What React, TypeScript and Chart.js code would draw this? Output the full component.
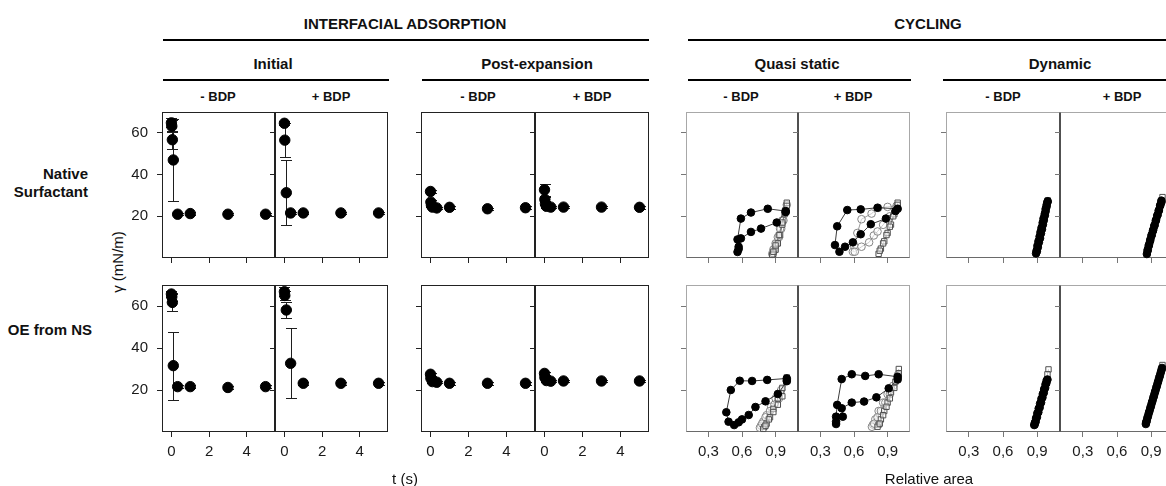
import React, { useEffect, useRef } from "react";
import { Chart, registerables } from "chart.js";

Chart.register(...registerables);

const FONT = '"Liberation Sans", Arial, Helvetica, sans-serif';

// ---------- axis ticks ----------
const gammaTicks = [20, 40, 60];
const timeTicks = [0, 2, 4];
const areaTicks = [0.3, 0.6, 0.9];

// ---------- interfacial adsorption: surface tension (mN/m) vs time (s) ----------
// Native surfactant, initial adsorption
const initNsMinusT = [0, 0.02, 0.05, 0.1, 0.33, 1, 3, 5];
const initNsMinusG = [64.8, 63.2, 56.7, 47.0, 21.0, 21.3, 21.0, 21.0];
const initNsMinusE = [2.2, 2.8, 4.3, 19.5, 0.6, 0.6, 0.6, 0.6];
const initNsPlusT = [0, 0.02, 0.1, 0.33, 1, 3, 5];
const initNsPlusG = [64.6, 56.5, 31.3, 21.6, 21.6, 21.6, 21.6];
const initNsPlusE = [1.0, 8.0, 15.7, 0.6, 0.6, 0.6, 0.6];
// OE from NS, initial adsorption
const initOeMinusT = [0, 0.02, 0.05, 0.1, 0.33, 1, 3, 5];
const initOeMinusG = [65.7, 64.4, 61.7, 31.6, 21.6, 21.6, 21.2, 21.6];
const initOeMinusE = [1.3, 2.0, 4.1, 16.2, 0.6, 0.6, 0.6, 0.6];
const initOePlusT = [0, 0.02, 0.1, 0.33, 1, 3, 5];
const initOePlusG = [66.8, 65.0, 58.1, 32.7, 23.2, 23.2, 23.2];
const initOePlusE = [2.2, 2.0, 4.0, 16.7, 0.7, 0.7, 0.7];
// Native surfactant, post-expansion
const postNsMinusT = [0, 0.02, 0.05, 0.1, 0.33, 1, 3, 5];
const postNsMinusG = [31.9, 26.8, 25.2, 24.4, 24.0, 24.3, 23.6, 24.1];
const postNsMinusE = [0.8, 0.8, 0.6, 0.6, 0.6, 0.6, 0.6, 0.6];
const postNsPlusT = [0, 0.02, 0.05, 0.1, 0.33, 1, 3, 5];
const postNsPlusG = [32.7, 28.1, 26.0, 24.8, 24.4, 24.4, 24.4, 24.3];
const postNsPlusE = [3.0, 1.0, 0.8, 0.6, 0.6, 0.6, 0.6, 0.6];
// OE from NS, post-expansion
const postOeMinusT = [0, 0.02, 0.1, 0.33, 1, 3, 5];
const postOeMinusG = [27.5, 25.6, 24.0, 23.7, 23.2, 23.2, 23.2];
const postOeMinusE = [0.6, 0.6, 0.6, 0.6, 0.6, 0.6, 0.6];
const postOePlusT = [0, 0.02, 0.1, 0.33, 1, 3, 5];
const postOePlusG = [27.9, 26.0, 24.5, 24.2, 24.3, 24.3, 24.3];
const postOePlusE = [0.6, 0.6, 0.6, 0.6, 0.6, 0.6, 0.6];

// ---------- cycling: surface tension vs relative area ----------
// Quasi static, native surfactant, - BDP (cycles 1, 2, 3)
const qsNsMinusA1 = [0.99, 0.83, 0.68, 0.59, 0.56, 0.57, 0.57, 0.56, 0.59, 0.68, 0.77, 0.91, 0.99];
const qsNsMinusG1 = [22.5, 23.6, 21.8, 18.9, 8.9, 5.4, 4.3, 2.9, 9.4, 12.5, 14.1, 17.0, 22.0];
const qsNsMinusA2 = [1.0, 0.99, 0.97, 0.95, 0.93, 0.91, 0.89, 0.88, 0.87, 0.88, 0.9, 0.92, 0.94, 0.96, 0.99];
const qsNsMinusG2 = [25.5, 22.0, 18.0, 14.0, 10.0, 7.0, 4.5, 3.0, 2.0, 4.0, 7.0, 10.0, 14.0, 18.0, 23.0];
const qsNsMinusA3 = [1.0, 0.98, 0.96, 0.94, 0.92, 0.9, 0.88, 0.87, 0.88, 0.9, 0.93, 0.96, 1.0];
const qsNsMinusG3 = [26.5, 21.0, 16.0, 11.0, 7.0, 4.0, 2.0, 1.5, 3.0, 6.0, 11.0, 17.0, 25.0];
// Quasi static, native surfactant, + BDP
const qsNsPlusA1 = [0.99, 0.81, 0.66, 0.54, 0.45, 0.43, 0.47, 0.52, 0.59, 0.66, 0.75, 0.885, 0.97];
const qsNsPlusG1 = [23.6, 24.1, 23.3, 23.0, 15.2, 6.2, 3.0, 5.4, 7.5, 11.4, 16.2, 18.9, 22.5];
const qsNsPlusA2 = [0.98, 0.9, 0.815, 0.757, 0.667, 0.63, 0.6, 0.59, 0.607, 0.667, 0.735, 0.777, 0.81, 0.86, 0.92, 0.98];
const qsNsPlusG2 = [25.0, 24.5, 24.0, 21.3, 18.6, 12.0, 6.0, 3.0, 3.0, 5.4, 7.5, 10.8, 12.7, 15.9, 20.0, 24.0];
const qsNsPlusA3 = [0.99, 0.96, 0.93, 0.9, 0.87, 0.84, 0.82, 0.83, 0.86, 0.89, 0.92, 0.95, 0.99];
const qsNsPlusG3 = [26.5, 21.0, 16.0, 12.0, 8.0, 4.5, 2.0, 3.5, 7.0, 11.0, 15.0, 20.0, 25.5];
// Quasi static, OE from NS, - BDP
const qsOeMinusA1 = [1.0, 0.825, 0.69, 0.58, 0.5, 0.46, 0.48, 0.53, 0.57, 0.6, 0.66, 0.72, 0.81, 0.92, 1.0];
const qsOeMinusG1 = [25.5, 24.8, 24.3, 24.4, 20.0, 9.4, 4.9, 3.3, 4.6, 6.0, 8.1, 11.9, 14.6, 18.1, 24.2];
const qsOeMinusA2 = [1.0, 0.95, 0.9, 0.86, 0.82, 0.79, 0.77, 0.76, 0.78, 0.81, 0.85, 0.89, 0.93, 1.0];
const qsOeMinusG2 = [25.0, 20.0, 16.0, 12.0, 8.0, 5.0, 3.0, 2.0, 4.0, 7.0, 10.0, 13.0, 16.0, 24.5];
const qsOeMinusA3 = [1.0, 0.96, 0.92, 0.88, 0.85, 0.82, 0.8, 0.79, 0.81, 0.84, 0.88, 0.92, 0.96, 1.0];
const qsOeMinusG3 = [26.0, 21.0, 16.0, 11.0, 7.0, 4.0, 2.5, 1.5, 3.0, 6.0, 9.5, 13.0, 17.0, 25.0];
// Quasi static, OE from NS, + BDP
const qsOePlusA1 = [0.99, 0.82, 0.7, 0.58, 0.49, 0.45, 0.44, 0.44, 0.44, 0.5, 0.49, 0.58, 0.69, 0.8, 0.91, 0.99];
const qsOePlusG1 = [26.3, 27.5, 26.7, 27.5, 25.2, 12.9, 7.3, 4.9, 3.8, 7.3, 11.3, 14.0, 14.5, 16.5, 20.8, 25.0];
const qsOePlusA2 = [0.99, 0.95, 0.9, 0.86, 0.82, 0.79, 0.77, 0.76, 0.78, 0.81, 0.84, 0.88, 0.92, 0.99];
const qsOePlusG2 = [27.0, 22.0, 18.0, 14.0, 10.0, 6.0, 3.5, 2.5, 4.0, 7.0, 10.0, 14.0, 18.0, 26.0];
const qsOePlusA3 = [1.0, 0.97, 0.93, 0.9, 0.87, 0.84, 0.82, 0.81, 0.83, 0.86, 0.89, 0.92, 0.96, 1.0];
const qsOePlusG3 = [30.0, 24.0, 19.0, 14.0, 10.0, 6.0, 3.5, 2.5, 4.0, 8.0, 12.0, 16.0, 21.0, 28.0];

// Dynamic cycling, native surfactant
const dynNsMinusA1 = [0.99, 0.982, 0.974, 0.967, 0.958, 0.95, 0.942, 0.933, 0.925, 0.915, 0.906, 0.897, 0.89, 0.895, 0.902, 0.911, 0.921, 0.929, 0.938, 0.948, 0.956, 0.966, 0.974, 0.983, 0.992];
const dynNsMinusG1 = [26.8, 24.6, 22.4, 20.4, 18.1, 16.0, 13.8, 11.8, 9.5, 7.5, 5.2, 3.2, 2.2, 3.6, 5.9, 8.0, 10.3, 12.4, 14.5, 16.9, 19.0, 21.1, 23.5, 25.5, 27.2];
const dynNsMinusA2 = [0.993, 0.985, 0.97, 0.95, 0.93, 0.91, 0.895];
const dynNsMinusG2 = [27.6, 25.8, 22.5, 18.0, 13.0, 8.2, 3.5];
const dynNsPlusA1 = [0.99, 0.98, 0.968, 0.956, 0.943, 0.93, 0.918, 0.905, 0.893, 0.881, 0.87, 0.862, 0.868, 0.878, 0.89, 0.902, 0.915, 0.927, 0.94, 0.953, 0.966, 0.978, 0.99];
const dynNsPlusG1 = [27.5, 25.4, 23.0, 20.7, 18.3, 15.8, 13.5, 11.2, 8.9, 6.4, 4.1, 1.9, 3.4, 5.8, 8.1, 10.6, 13.0, 15.3, 17.8, 20.2, 22.6, 25.0, 26.8];
const dynNsPlusA2 = [0.999, 0.985, 0.96, 0.935, 0.905, 0.88, 0.865];
const dynNsPlusG2 = [29.2, 27.0, 22.0, 17.0, 11.0, 6.0, 2.5];
// Dynamic cycling, OE from NS
const dynOeMinusA1 = [0.99, 0.98, 0.97, 0.958, 0.946, 0.934, 0.922, 0.91, 0.898, 0.887, 0.878, 0.874, 0.88, 0.89, 0.901, 0.913, 0.925, 0.937, 0.949, 0.961, 0.973, 0.985];
const dynOeMinusG1 = [25.0, 23.2, 21.0, 18.7, 16.4, 14.0, 11.7, 9.4, 7.1, 5.0, 3.6, 3.3, 4.5, 6.6, 8.9, 11.2, 13.5, 15.8, 18.1, 20.4, 22.7, 24.6];
const dynOeMinusA2 = [0.999, 0.99, 0.975, 0.955, 0.93, 0.905, 0.885];
const dynOeMinusG2 = [29.8, 27.5, 24.0, 19.5, 14.0, 9.0, 5.0];
const dynOePlusA1 = [0.995, 0.983, 0.97, 0.957, 0.944, 0.931, 0.918, 0.905, 0.892, 0.879, 0.866, 0.856, 0.853, 0.86, 0.872, 0.885, 0.898, 0.911, 0.924, 0.937, 0.95, 0.963, 0.976, 0.99];
const dynOePlusG1 = [30.5, 28.2, 25.8, 23.4, 21.0, 18.6, 16.2, 13.8, 11.4, 9.0, 6.6, 4.6, 3.8, 5.2, 7.6, 10.0, 12.4, 14.8, 17.2, 19.6, 22.0, 24.4, 26.8, 29.4];
const dynOePlusA2 = [0.999, 0.985, 0.96, 0.93, 0.9, 0.875, 0.858];
const dynOePlusG2 = [31.9, 29.0, 24.5, 19.0, 13.5, 8.5, 4.5];

// ---------- panel grid (page pixels) ----------
const colLeft = [162, 275, 421, 535, 686, 798, 946, 1060];
const colWidth = [113, 113, 114, 114, 112, 112, 114, 114];
const rowTop = [112, 285];
const rowHeight = [146, 147];
const PAD_L = 40;
const PAD_R = 12;
const PAD_T = 12;

const pts = (xs: number[], ys: number[]) => xs.map((x, i) => ({ x, y: ys[i] }));

const adsorption = (t: number[], g: number[], e: number[]) => ({
  data: pts(t, g),
  errorBars: e,
  showLine: false,
  pointRadius: 5.2,
  pointBackgroundColor: "#000",
  pointBorderColor: "#000",
  pointBorderWidth: 1,
  clip: false,
});

const cycleFilled = (a: number[], g: number[]) => ({
  data: pts(a, g),
  showLine: true,
  tension: 0,
  borderColor: "#3c3c3c",
  borderWidth: 1,
  pointRadius: 3.8,
  pointBackgroundColor: "#000",
  pointBorderColor: "#000",
  pointBorderWidth: 1,
  clip: false,
});

const cycleCircle = (a: number[], g: number[]) => ({
  data: pts(a, g),
  showLine: true,
  tension: 0,
  borderColor: "#9a9a9a",
  borderWidth: 1,
  pointStyle: "circle",
  pointRadius: 3.8,
  pointBackgroundColor: "rgba(255,255,255,0.5)",
  pointBorderColor: "#858585",
  pointBorderWidth: 1,
  clip: false,
});

const cycleSquare = (a: number[], g: number[]) => ({
  data: pts(a, g),
  showLine: true,
  tension: 0,
  borderColor: "#7a7a7a",
  borderWidth: 1,
  pointStyle: "rect",
  pointRadius: 3.8,
  pointBackgroundColor: "rgba(255,255,255,0.5)",
  pointBorderColor: "#505050",
  pointBorderWidth: 1,
  clip: false,
});

type PanelSpec = { col: number; row: number; kind: "time" | "cycle"; datasets: any[] };

const panels: PanelSpec[] = [
  { col: 0, row: 0, kind: "time", datasets: [adsorption(initNsMinusT, initNsMinusG, initNsMinusE)] },
  { col: 1, row: 0, kind: "time", datasets: [adsorption(initNsPlusT, initNsPlusG, initNsPlusE)] },
  { col: 2, row: 0, kind: "time", datasets: [adsorption(postNsMinusT, postNsMinusG, postNsMinusE)] },
  { col: 3, row: 0, kind: "time", datasets: [adsorption(postNsPlusT, postNsPlusG, postNsPlusE)] },
  { col: 0, row: 1, kind: "time", datasets: [adsorption(initOeMinusT, initOeMinusG, initOeMinusE)] },
  { col: 1, row: 1, kind: "time", datasets: [adsorption(initOePlusT, initOePlusG, initOePlusE)] },
  { col: 2, row: 1, kind: "time", datasets: [adsorption(postOeMinusT, postOeMinusG, postOeMinusE)] },
  { col: 3, row: 1, kind: "time", datasets: [adsorption(postOePlusT, postOePlusG, postOePlusE)] },
  { col: 4, row: 0, kind: "cycle", datasets: [cycleFilled(qsNsMinusA1, qsNsMinusG1), cycleSquare(qsNsMinusA3, qsNsMinusG3), cycleCircle(qsNsMinusA2, qsNsMinusG2)] },
  { col: 5, row: 0, kind: "cycle", datasets: [cycleFilled(qsNsPlusA1, qsNsPlusG1), cycleSquare(qsNsPlusA3, qsNsPlusG3), cycleCircle(qsNsPlusA2, qsNsPlusG2)] },
  { col: 4, row: 1, kind: "cycle", datasets: [cycleFilled(qsOeMinusA1, qsOeMinusG1), cycleSquare(qsOeMinusA3, qsOeMinusG3), cycleCircle(qsOeMinusA2, qsOeMinusG2)] },
  { col: 5, row: 1, kind: "cycle", datasets: [cycleFilled(qsOePlusA1, qsOePlusG1), cycleSquare(qsOePlusA3, qsOePlusG3), cycleCircle(qsOePlusA2, qsOePlusG2)] },
  { col: 6, row: 0, kind: "cycle", datasets: [cycleFilled(dynNsMinusA1, dynNsMinusG1), cycleSquare(dynNsMinusA2, dynNsMinusG2)] },
  { col: 7, row: 0, kind: "cycle", datasets: [cycleFilled(dynNsPlusA1, dynNsPlusG1), cycleSquare(dynNsPlusA2, dynNsPlusG2)] },
  { col: 6, row: 1, kind: "cycle", datasets: [cycleFilled(dynOeMinusA1, dynOeMinusG1), cycleSquare(dynOeMinusA2, dynOeMinusG2)] },
  { col: 7, row: 1, kind: "cycle", datasets: [cycleFilled(dynOePlusA1, dynOePlusG1), cycleSquare(dynOePlusA2, dynOePlusG2)] },
];

// vertical error bars with caps, drawn under the markers
const errorBarPlugin = {
  id: "errorBars",
  beforeDatasetsDraw(chart: any) {
    const { ctx } = chart;
    const xs = chart.scales.x;
    const ys = chart.scales.y;
    chart.data.datasets.forEach((ds: any) => {
      if (!ds.errorBars) return;
      ctx.save();
      ctx.strokeStyle = "#1e1e1e";
      ctx.lineWidth = 1;
      ds.data.forEach((p: any, i: number) => {
        const e = ds.errorBars[i];
        if (!e) return;
        const x = Math.round(xs.getPixelForValue(p.x)) + 0.5;
        const yHi = Math.round(ys.getPixelForValue(p.y + e)) + 0.5;
        const yLo = Math.round(ys.getPixelForValue(p.y - e)) + 0.5;
        ctx.beginPath();
        ctx.moveTo(x, yHi);
        ctx.lineTo(x, yLo);
        ctx.moveTo(x - 5.5, yHi);
        ctx.lineTo(x + 5.5, yHi);
        ctx.moveTo(x - 5.5, yLo);
        ctx.lineTo(x + 5.5, yLo);
        ctx.stroke();
      });
      ctx.restore();
    });
  },
};

// panel frame, each side with its own colour
const framePlugin = {
  id: "panelFrame",
  beforeDatasetsDraw(chart: any, _args: any, opts: any) {
    const { ctx, chartArea: a } = chart;
    const c = opts.colors;
    const L = Math.round(a.left) + 0.5;
    const R = Math.round(a.right) - 0.5;
    const T = Math.round(a.top) + 0.5;
    const B = Math.round(a.bottom) - 0.5;
    const seg = (x1: number, y1: number, x2: number, y2: number, col: string) => {
      ctx.strokeStyle = col;
      ctx.beginPath();
      ctx.moveTo(x1, y1);
      ctx.lineTo(x2, y2);
      ctx.stroke();
    };
    ctx.save();
    ctx.lineWidth = 1;
    seg(L - 0.5, T, R + 0.5, T, c.top);
    seg(L - 0.5, B, R + 0.5, B, c.bottom);
    seg(L, T, L, B, c.left);
    seg(R, T, R, B, c.right);
    ctx.restore();
  },
};

function Panel({ spec }: { spec: PanelSpec }) {
  const ref = useRef<HTMLCanvasElement>(null);
  const left = colLeft[spec.col];
  const w = colWidth[spec.col];
  const top = rowTop[spec.row];
  const h = rowHeight[spec.row];
  const padB = spec.row === 1 ? 36 : 10;
  const cw = w + PAD_L + PAD_R;
  const ch = h + PAD_T + padB;
  const isTime = spec.kind === "time";
  const isMinus = spec.col % 2 === 0;

  useEffect(() => {
    const tickColor = isTime ? "#222" : "#777";
    const frame = isTime
      ? { top: "#222", right: "#222", bottom: "#222", left: "#222" }
      : isMinus
      ? { top: "#a8a8a8", right: "#505050", bottom: "#6a6a6a", left: "#a8a8a8" }
      : { top: "#a8a8a8", right: "#a8a8a8", bottom: "#6a6a6a", left: "#505050" };
    const xTickValues = isTime ? timeTicks : areaTicks;
    const chart = new Chart(ref.current as HTMLCanvasElement, {
      type: "scatter",
      data: { datasets: spec.datasets },
      plugins: [framePlugin, errorBarPlugin],
      options: {
        responsive: false,
        animation: false,
        devicePixelRatio: 1,
        layout: { padding: { left: 0, top: PAD_T, right: PAD_R, bottom: 0 } },
        plugins: {
          legend: { display: false },
          tooltip: { enabled: false },
          panelFrame: { colors: frame },
        } as any,
        scales: {
          x: {
            type: "linear",
            min: isTime ? -0.5 : 0.1,
            max: isTime ? 5.5 : 1.1,
            afterBuildTicks: (s: any) => {
              s.ticks = xTickValues.map((v) => ({ value: v }));
            },
            afterFit: (s: any) => {
              s.height = padB;
              s.paddingLeft = 0;
              s.paddingRight = 0;
              s.paddingTop = 0;
              s.paddingBottom = 0;
            },
            grid: { drawOnChartArea: false, drawTicks: true, tickLength: 5, color: tickColor, lineWidth: 1 },
            border: { display: false },
            ticks: {
              display: spec.row === 1,
              autoSkip: false,
              maxRotation: 0,
              padding: 6,
              color: "#1a1a1a",
              font: { family: FONT, size: 15 },
              callback: (v: any) => (isTime ? String(v) : Number(v).toFixed(1).replace(".", ",")),
            },
          },
          y: {
            type: "linear",
            min: 0,
            max: 70,
            afterBuildTicks: (s: any) => {
              s.ticks = gammaTicks.map((v) => ({ value: v }));
            },
            afterFit: (s: any) => {
              s.width = PAD_L;
              s.paddingLeft = 0;
              s.paddingRight = 0;
              s.paddingTop = 0;
              s.paddingBottom = 0;
            },
            grid: { drawOnChartArea: false, drawTicks: true, tickLength: 5, color: tickColor, lineWidth: 1 },
            border: { display: false },
            ticks: {
              display: spec.col === 0,
              padding: 9,
              color: "#1a1a1a",
              font: { family: FONT, size: 15 },
              callback: (v: any) => String(v),
            },
          },
        },
      } as any,
    });
    return () => chart.destroy();
  }, []);

  return (
    <canvas
      ref={ref}
      width={cw}
      height={ch}
      style={{ position: "absolute", left: left - PAD_L, top: top - PAD_T, width: cw, height: ch }}
    />
  );
}

function Label({
  x,
  y,
  text,
  size = 15,
  bold = false,
  align = "center",
  rotate = false,
}: {
  x: number;
  y: number;
  text: React.ReactNode;
  size?: number;
  bold?: boolean;
  align?: "center" | "right";
  rotate?: boolean;
}) {
  const tx = align === "center" ? "-50%" : "-100%";
  return (
    <div
      style={{
        position: "absolute",
        left: x,
        top: y,
        transform: `translate(${tx}, -50%)${rotate ? " rotate(-90deg)" : ""}`,
        font: `${bold ? "bold " : ""}${size}px ${FONT}`,
        lineHeight: `${size + 3}px`,
        whiteSpace: "nowrap",
        textAlign: align,
        color: "#111",
      }}
    >
      {text}
    </div>
  );
}

function Rule({ x1, x2, y }: { x1: number; x2: number; y: number }) {
  return <div style={{ position: "absolute", left: x1, top: y - 1, width: x2 - x1, height: 2, background: "#000" }} />;
}

export default function App() {
  return (
    <div style={{ position: "relative", width: 1166, height: 486, overflow: "hidden", background: "#fff" }}>
      <style>{"html,body{margin:0;padding:0;background:#fff;overflow:hidden}"}</style>

      <Label x={405} y={24} text="INTERFACIAL ADSORPTION" bold />
      <Label x={928} y={24} text="CYCLING" bold />
      <Rule x1={163} x2={649} y={40} />
      <Rule x1={688} x2={1166} y={40} />

      <Label x={273} y={64} text="Initial" bold />
      <Label x={537} y={64} text="Post-expansion" bold />
      <Label x={797} y={64} text="Quasi static" bold />
      <Label x={1060} y={64} text="Dynamic" bold />
      <Rule x1={163} x2={389} y={80} />
      <Rule x1={422} x2={649} y={80} />
      <Rule x1={688} x2={911} y={80} />
      <Rule x1={943} x2={1166} y={80} />

      <Label x={218} y={97} text="- BDP" size={13} bold />
      <Label x={331} y={97} text="+ BDP" size={13} bold />
      <Label x={478} y={97} text="- BDP" size={13} bold />
      <Label x={592} y={97} text="+ BDP" size={13} bold />
      <Label x={741} y={97} text="- BDP" size={13} bold />
      <Label x={853} y={97} text="+ BDP" size={13} bold />
      <Label x={1003} y={97} text="- BDP" size={13} bold />
      <Label x={1122} y={97} text="+ BDP" size={13} bold />

      <Label x={88} y={183} text={<>Native<br />Surfactant</>} bold align="right" />
      <Label x={92} y={330} text="OE from NS" bold align="right" />
      <Label x={118} y={262} text="γ (mN/m)" rotate />

      {panels.map((p, i) => (
        <Panel key={i} spec={p} />
      ))}

      <Label x={405} y={479} text="t (s)" />
      <Label x={929} y={479} text="Relative area" />
    </div>
  );
}
